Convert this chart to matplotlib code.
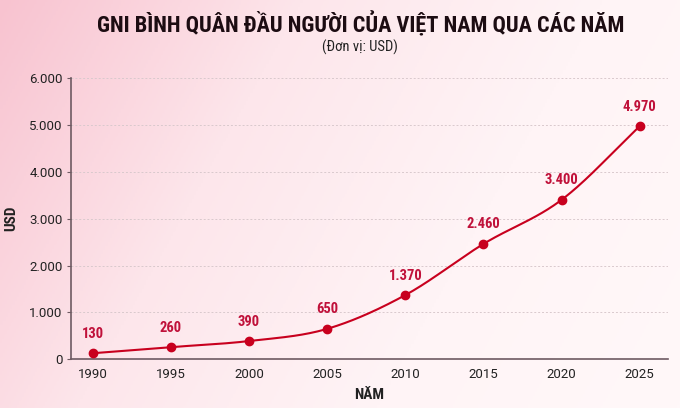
import numpy as np
import matplotlib
matplotlib.use("Agg")
import matplotlib.pyplot as plt
from matplotlib.colors import LinearSegmentedColormap

# data
years = [1990, 1995, 2000, 2005, 2010, 2015, 2020, 2025]
gni = [130, 260, 390, 650, 1370, 2460, 3400, 4970]
value_labels = ["130", "260", "390", "650", "1.370", "2.460", "3.400", "4.970"]
y_ticks = [0, 1000, 2000, 3000, 4000, 5000, 6000]
y_tick_labels = ["0", "1.000", "2.000", "3.000", "4.000", "5.000", "6.000"]

title = "GNI BÌNH QUÂN ĐẦU NGƯỜI CỦA VIỆT NAM QUA CÁC NĂM"
subtitle = "(Đơn vị: USD)"

cond = ["Roboto Condensed", "Liberation Sans Narrow", "DejaVu Sans"]
reg = ["Roboto", "DejaVu Sans"]
RED = "#c8001e"
LABEL_RED = "#c0113a"
SPINE = "#6e5a62"


def smooth(x, y, n=40):
    # cubic hermite through the points (only for the line shape)
    x = np.asarray(x, float)
    y = np.asarray(y, float)
    m = np.gradient(y, x)
    xs, ys = [], []
    for i in range(len(x) - 1):
        h = x[i + 1] - x[i]
        t = np.linspace(0, 1, n, endpoint=False)
        h00 = 2 * t**3 - 3 * t**2 + 1
        h10 = t**3 - 2 * t**2 + t
        h01 = -2 * t**3 + 3 * t**2
        h11 = t**3 - t**2
        xs.append(x[i] + t * h)
        ys.append(h00 * y[i] + h10 * h * m[i] + h01 * y[i + 1] + h11 * h * m[i + 1])
    xs.append([x[-1]])
    ys.append([y[-1]])
    return np.concatenate(xs), np.concatenate(ys)


fig = plt.figure(figsize=(6.8, 4.08), dpi=100)

# background gradient
bg = fig.add_axes([0, 0, 1, 1], zorder=0)
gx, gy = np.meshgrid(np.linspace(0, 1, 300), np.linspace(0, 1, 200))
g = np.clip(0.75 * gx + 0.25 * gy, 0, 1)
cmap = LinearSegmentedColormap.from_list("bg", ["#f8c3d0", "#fde6eb", "#fff4f6", "#fff8f9"])
bg.imshow(g, cmap=cmap, aspect="auto", extent=[0, 1, 0, 1], origin="upper")
bg.axis("off")

ax = fig.add_axes([0.1044, 0.1193, 0.8776, 0.6897], zorder=1)
ax.patch.set_alpha(0)

sx, sy = smooth(years, gni)
ax.plot(sx, sy, color=RED, lw=1.5, zorder=3)
ax.plot(years, gni, "o", color=RED, ms=6, zorder=4)

for x, y, lab in zip(years, gni, value_labels):
    ax.annotate(lab, (x, y), xytext=(0, 9), textcoords="offset points",
                ha="center", va="bottom", fontsize=10.5, fontweight="bold",
                color=LABEL_RED, family=cond)

ax.set_xlim(1988.6, 2026.8)
ax.set_ylim(0, 6000)
ax.set_xticks(years)
ax.set_xticklabels([str(y) for y in years], family=reg, fontsize=9.5, color="#222222")
ax.set_yticks(y_ticks)
ax.set_yticklabels(y_tick_labels, family=reg, fontsize=9.5, color="#222222")
ax.tick_params(axis="x", length=0, pad=6)
ax.tick_params(axis="y", length=3, color=SPINE, pad=3)

for s in ["top", "right"]:
    ax.spines[s].set_visible(False)
for s in ["left", "bottom"]:
    ax.spines[s].set_color(SPINE)
    ax.spines[s].set_linewidth(1.2)

ax.grid(axis="y", linestyle=(0, (2, 2)), color="#d9c9cd", lw=0.7)
ax.set_axisbelow(True)

ax.set_xlabel("NĂM", fontsize=11, fontweight="bold", family=cond, labelpad=5, color="#222222")
ax.set_ylabel("USD", fontsize=11, fontweight="bold", family=cond, labelpad=8, color="#222222")

fig.text(0.53, 0.94, title, ha="center", va="center", fontsize=16,
         fontweight="bold", family=cond, color="#1c0c12")
fig.text(0.53, 0.885, subtitle, ha="center", va="center", fontsize=10.5,
         family=cond, color="#222222")

fig.savefig("out.png", dpi=100)
